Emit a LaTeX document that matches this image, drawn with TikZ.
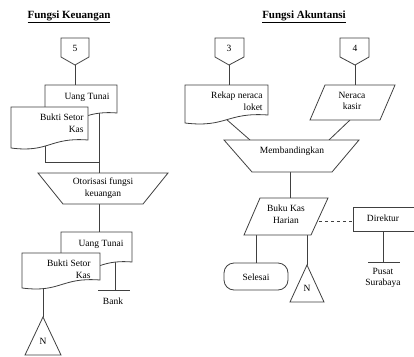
\documentclass[tikz,border=0pt]{standalone}
\usepackage{fontspec}
\setmainfont{Liberation Serif}
\newcommand{\docpath}[5]{% x1 x2 ytop yR yL
  \draw[shp] (#1,#3) -- (#2,#3) -- (#2,#4)
    .. controls ({#1+0.5*(#2-#1)},{#4-3}) and ({#1+0.5*(#2-#1)},{#5+5}) .. (#1,#5) -- cycle;}
\begin{document}
\begin{tikzpicture}[x=1pt,y=-1pt,line width=0.8pt,
  shp/.style={draw=black!75,fill=white},
  ln/.style={draw=black!75},
  txt/.style={font=\fontsize{9.5}{11.5}\selectfont,inner sep=0pt},
  ttl/.style={font=\fontsize{11}{13}\selectfont\bfseries,inner sep=0pt}]
\useasboundingbox (0,0) rectangle (414,356);
\fill[white] (0,0) rectangle (414,356);

% ---------- coordinates ----------
\coordinate (c5) at (75,65);
\coordinate (ut1top) at (75,85);
\coordinate (ut1r) at (99,110);
\coordinate (ut1l) at (45,100);
\coordinate (brk) at (45,162);
\coordinate (brkr) at (99,162);
\coordinate (otop) at (99,173);
\coordinate (obot) at (99,204);
\coordinate (ut2top) at (99,232);
\coordinate (ut2b) at (115,255);
\coordinate (bank) at (115,290);
\coordinate (bk2b) at (43,282);
\coordinate (n1) at (43,317);

\coordinate (c3) at (229,65);
\coordinate (rktop) at (229,85);
\coordinate (c4) at (355,65);
\coordinate (nktop) at (355,85);
\coordinate (rkb) at (226,119);
\coordinate (nkb) at (350,120);
\coordinate (mtl) at (250,140);
\coordinate (mtr) at (329,140);
\coordinate (mb) at (290,172);
\coordinate (bkt) at (290,198);
\coordinate (bkl) at (256,235);
\coordinate (bkr) at (307,235);
\coordinate (bkd) at (319,221);
\coordinate (dirl) at (353,221);
\coordinate (dirb) at (383,231);
\coordinate (pus) at (383,262);
\coordinate (sel) at (256,263);
\coordinate (n2) at (307,265);

% ---------- connectors ----------
\draw[ln] (c5) -- (ut1top);
\draw[ln] (ut1l) -- (brk) -- (brkr);
\draw[ln] (ut1r) -- (otop);
\draw[ln] (obot) -- (ut2top);
\draw[ln] (ut2b) -- (bank);
\draw[ln] (98,290) -- (130,290);
\draw[ln] (bk2b) -- (n1);

\draw[ln] (c3) -- (rktop);
\draw[ln] (c4) -- (nktop);
\draw[ln] (rkb) -- (mtl);
\draw[ln] (nkb) -- (mtr);
\draw[ln] (mb) -- (bkt);
\draw[ln,dashed] (bkd) -- (dirl);
\draw[ln] (dirb) -- (pus);
\draw[ln] (368,262) -- (400,262);
\draw[ln] (bkl) -- (sel);
\draw[ln] (bkr) -- (n2);

% ---------- titles ----------
\node[ttl] (t1) at (69,17) {\underline{Fungsi Keuangan}};
\node[ttl] (t2) at (304,17) {\underline{Fungsi Akuntansi}};

% ---------- left column shapes ----------
\draw[shp] (61,38) -- (89,38) -- (89,57) -- (75,65) -- (61,57) -- cycle;
\node[txt] (p5) at (75,48) {5};

\docpath{45}{117}{85}{113}{121}
\node[txt] (ut1) at (87,97) {Uang Tunai};
\docpath{11}{88}{107}{140}{148}
\node[txt,align=right,anchor=east] (bs1) at (84,123) {Bukti Setor\\Kas};

\draw[shp] (38,173) -- (168,173) -- (143,204) -- (63,204) -- cycle;
\node[txt,align=center] (oto) at (103,188) {Otorisasi fungsi\\keuangan};

\docpath{61}{132}{232}{262}{270}
\node[txt] (ut2) at (101,244) {Uang Tunai};
\docpath{22}{100}{253}{280}{288}
\node[txt,align=right,anchor=east] (bs2) at (91,269) {Bukti Setor\\Kas};
\node[txt] (bk) at (113,301) {Bank};

\draw[shp] (43,317) -- (61,355) -- (25,355) -- cycle;
\node[txt] (nl) at (43,341) {N};

% ---------- right column shapes ----------
\draw[shp] (215,38) -- (244,38) -- (244,57) -- (229,65) -- (215,57) -- cycle;
\node[txt] (p3) at (229,48) {3};
\draw[shp] (340,38) -- (369,38) -- (369,57) -- (355,65) -- (340,57) -- cycle;
\node[txt] (p4) at (355,48) {4};

\docpath{185}{268}{85}{115}{123}
\node[txt,align=right,anchor=east] (rk) at (263,101) {Rekap neraca\\loket};
\draw[shp] (325,85) -- (395,85) -- (380,120) -- (310,120) -- cycle;
\node[txt,align=center] (nk) at (352,101) {Neraca\\kasir};

\draw[shp] (224,140) -- (359,140) -- (332,172) -- (252,172) -- cycle;
\node[txt] (mem) at (292,151) {Membandingkan};

\draw[shp] (260,198) -- (328,198) -- (311,235) -- (244,235) -- cycle;
\node[txt,align=center] (bkh) at (286,214) {Buku Kas\\Harian};

\draw[shp] (420,207) -- (353,207) -- (353,231) -- (420,231);
\node[txt] (dir) at (383,218) {Direktur};
\node[txt,align=center] (ps) at (383,278) {Pusat\\Surabaya};

\draw[shp,rounded corners=10pt] (224,263) rectangle (288,290);
\node[txt] (sl) at (256,277) {Selesai};

\draw[shp] (307,265) -- (324,302) -- (290,302) -- cycle;
\node[txt] (nr) at (307,288) {N};
\end{tikzpicture}
\end{document}
